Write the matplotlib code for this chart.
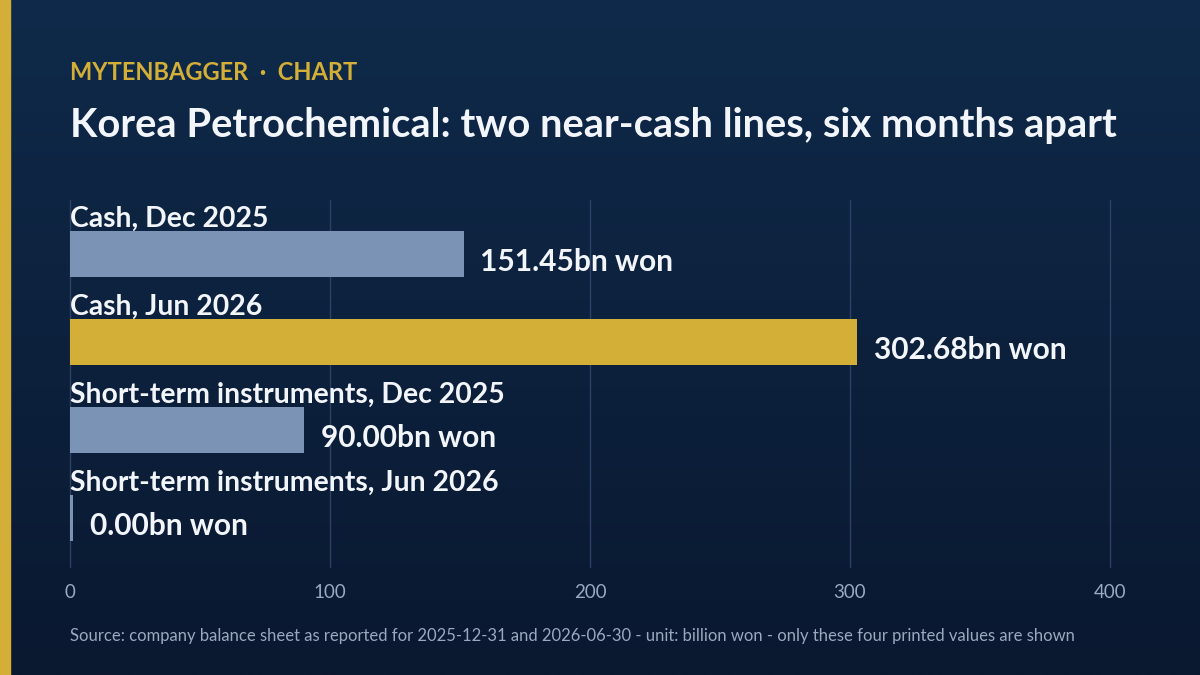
import matplotlib
matplotlib.use("Agg")
import matplotlib.pyplot as plt
import numpy as np
from matplotlib.colors import LinearSegmentedColormap

categories = ["Cash, Dec 2025", "Cash, Jun 2026",
              "Short-term instruments, Dec 2025", "Short-term instruments, Jun 2026"]
values = [151.45, 302.68, 90.00, 0.00]
value_labels = ["151.45bn won", "302.68bn won", "90.00bn won", "0.00bn won"]
bar_colors = ["#7b93b5", "#d4af37", "#7b93b5", "#7b93b5"]
xticks = [0, 100, 200, 300, 400]

FONT = ["Lato", "DejaVu Sans"]
plt.rcParams['font.family'] = FONT

W, H = 1200, 675
fig = plt.figure(figsize=(12, 6.75), dpi=100)

# background gradient
bg = fig.add_axes([0, 0, 1, 1], zorder=-10)
grad = np.linspace(0, 1, 256).reshape(-1, 1)
cmap = LinearSegmentedColormap.from_list("bg", ["#0f2a4a", "#0a1830"])
bg.imshow(grad, aspect="auto", cmap=cmap, extent=[0, 1, 0, 1], origin="upper")
bg.add_patch(plt.Rectangle((0, 0), 10 / W, 1, color="#d4af37", transform=bg.transAxes))
bg.set_xlim(0, 1); bg.set_ylim(0, 1)
bg.axis("off")

fig.text(70 / W, 1 - 72 / H, "MYTENBAGGER  ·  CHART", color="#d4af37",
         fontsize=17, fontweight="bold", va="center", ha="left")
fig.text(70 / W, 1 - 126 / H, "Korea Petrochemical: two near-cash lines, six months apart",
         color="#f2f5fa", fontsize=28.7, fontweight="bold", va="center", ha="left")
fig.text(70 / W, 1 - 636 / H,
         "Source: company balance sheet as reported for 2025-12-31 and 2026-06-30 - unit: billion won - only these four printed values are shown",
         color="#9aa8c0", fontsize=11.95, va="center", ha="left")

ax = fig.add_axes([70 / W, 1 - 567 / H, 1040 / W, 367 / H])
ax.set_facecolor("none")
ypos = np.arange(len(categories))
bh = 46 / 88
disp = [max(v, 1.2) for v in values]
ax.barh(ypos, disp, height=bh, color=bar_colors, zorder=3)
ax.set_xlim(0, 400)
ax.set_ylim(3 + 49 / 88, -54 / 88)
ax.set_xticks(xticks)
ax.set_xticklabels([str(t) for t in xticks])
ax.tick_params(axis="x", colors="#9aa8c0", labelsize=13.5, length=0, pad=12)
ax.set_yticks([])
for s in ax.spines.values():
    s.set_visible(False)
for t in xticks:
    ax.axvline(t, color="#2b4266", linewidth=1, zorder=0, clip_on=False)

for i, (cat, v, lab) in enumerate(zip(categories, disp, value_labels)):
    ax.text(0, i - bh / 2 - 4 / 88, cat, color="#f2f5fa", fontsize=20.4,
            fontweight="bold", va="baseline", ha="left", zorder=4)
    ax.annotate(lab, (v, i), xytext=(12, -6), textcoords="offset points",
                color="#f2f5fa", fontsize=21.5, fontweight="bold",
                va="center", ha="left", zorder=4)

fig.savefig("out.png", dpi=100)
